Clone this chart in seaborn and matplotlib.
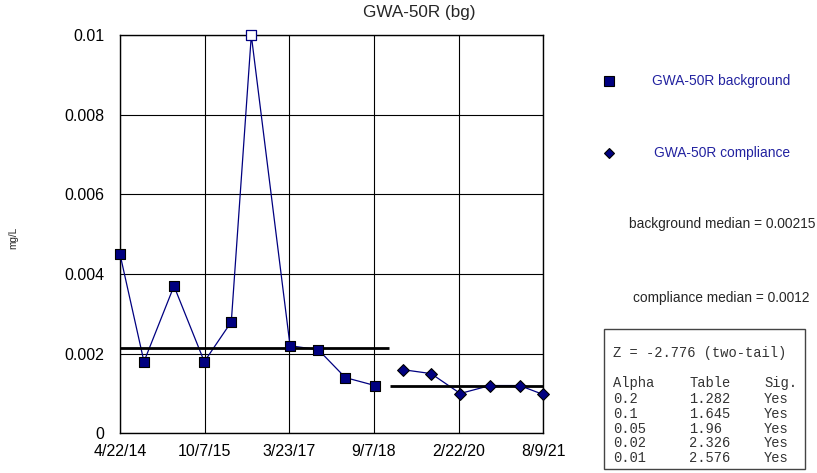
import pandas as pd
import numpy as np
import matplotlib
matplotlib.use("Agg")
import matplotlib.pyplot as plt
import matplotlib.dates as mdates
from matplotlib.lines import Line2D
from matplotlib.patches import Rectangle
from matplotlib.ticker import FixedLocator, FuncFormatter
import seaborn as sns

# datos
bg_dates = ['2014-04-22', '2014-09-20', '2015-03-28', '2015-10-05', '2016-03-23',
            '2016-07-27', '2017-03-28', '2017-09-22', '2018-03-11', '2018-09-14']
bg_vals = [0.0045, 0.0018, 0.0037, 0.0018, 0.0028, 0.01, 0.0022, 0.0021, 0.0014, 0.0012]
bg_nondetect = [False, False, False, False, False, True, False, False, False, False]

comp_dates = ['2019-03-07', '2019-09-02', '2020-03-04', '2020-09-07', '2021-03-13', '2021-08-05']
comp_vals = [0.0016, 0.0015, 0.001, 0.0012, 0.0012, 0.00098]

bg_median = 0.00215
comp_median = 0.0012
bg_median_span = ['2014-04-22', '2018-12-13']
comp_median_span = ['2018-12-17', '2021-08-09']

x_start, x_end = '2014-04-22', '2021-08-09'
y_ticks = [0, 0.002, 0.004, 0.006, 0.008, 0.01]
y_tick_labels = ['0', '0.002', '0.004', '0.006', '0.008', '0.01']

z_text = 'Z = -2.776 (two-tail)'
alphas = ['0.2', '0.1', '0.05', '0.02', '0.01']
table_vals = ['1.282', '1.645', '1.96', '2.326', '2.576']
sig_vals = ['Yes', 'Yes', 'Yes', 'Yes', 'Yes']

NAVY = '#000080'
LEG_BLUE = '#2222A0'
W, H = 817, 473

sns.set_style('white')
plt.rcParams['font.family'] = ['Liberation Sans', 'DejaVu Sans']

df_bg = pd.DataFrame({'fecha': pd.to_datetime(bg_dates), 'valor': bg_vals, 'nd': bg_nondetect})
df_comp = pd.DataFrame({'fecha': pd.to_datetime(comp_dates), 'valor': comp_vals})

fig = plt.figure(figsize=(W / 100, H / 100), dpi=100)
ax = fig.add_axes([120 / W, 1 - 433.3 / H, 423.3 / W, 398 / H])

# lineas de datos
sns.lineplot(data=df_bg, x='fecha', y='valor', ax=ax, color=NAVY, lw=0.9, zorder=3)
sns.lineplot(data=df_comp, x='fecha', y='valor', ax=ax, color=NAVY, lw=0.9, zorder=3)

# marcadores
sns.scatterplot(data=df_bg[~df_bg['nd']], x='fecha', y='valor', ax=ax, marker='s', s=62,
                color=NAVY, edgecolor='black', linewidth=0.8, zorder=5, clip_on=False)
sns.scatterplot(data=df_bg[df_bg['nd']], x='fecha', y='valor', ax=ax, marker='s', s=62,
                color='white', edgecolor=NAVY, linewidth=0.9, zorder=5, clip_on=False)
sns.scatterplot(data=df_comp, x='fecha', y='valor', ax=ax, marker='D', s=36,
                color=NAVY, edgecolor='black', linewidth=0.8, zorder=5, clip_on=False)

# medianas
bspan = mdates.date2num(pd.to_datetime(bg_median_span))
cspan = mdates.date2num(pd.to_datetime(comp_median_span))
ax.plot(bspan, [bg_median, bg_median], color='black', lw=2, zorder=4, solid_capstyle='butt')
ax.plot(cspan, [comp_median, comp_median], color='black', lw=2, zorder=4, solid_capstyle='butt')

# ejes
x0 = pd.Timestamp(x_start)
x1 = pd.Timestamp(x_end)
ax.set_xlim(x0, x1)
ax.set_ylim(0, 0.01)
xt = pd.date_range(x0, x1, periods=6)
ax.xaxis.set_major_locator(FixedLocator(mdates.date2num(xt)))
ax.xaxis.set_major_formatter(FuncFormatter(
    lambda v, p: (lambda d: f"{d.month}/{d.day}/{d:%y}")(mdates.num2date(v))))
ax.set_yticks(y_ticks)
ax.set_yticklabels(y_tick_labels)
ax.tick_params(axis='both', direction='out', length=5, width=1, color='black',
               labelsize=11.5, labelcolor='black')
ax.tick_params(axis='y', pad=6)
ax.tick_params(axis='x', pad=2.5)
ax.grid(True, color='black', lw=0.8)
for s in ax.spines.values():
    s.set_color('black')
    s.set_linewidth(1)
ax.set_xlabel('')
ax.set_ylabel('')

fig.text(13.5 / W, 1 - 238 / H, 'mg/L', rotation=90, ha='center', va='center', fontsize=7.2)
fig.text(419 / W, 1 - 13 / H, 'GWA-50R (bg)', ha='center', va='center', fontsize=12.3)

# leyenda manual
fig.add_artist(Line2D([609 / W], [1 - 81 / H], marker='s', markersize=7.4, color=NAVY,
                      markeredgecolor='black', markeredgewidth=0.8, transform=fig.transFigure))
fig.add_artist(Line2D([609 / W], [1 - 153 / H], marker='D', markersize=5.6, color=NAVY,
                      markeredgecolor='black', markeredgewidth=0.8, transform=fig.transFigure))
fig.text(652 / W, 1 - 81 / H, 'GWA-50R background', color=LEG_BLUE, fontsize=9.9, va='center')
fig.text(654 / W, 1 - 153 / H, 'GWA-50R compliance', color=LEG_BLUE, fontsize=9.9, va='center')
fig.text(628.7 / W, 1 - 224 / H, f'background median = {bg_median}', fontsize=9.9, va='center')
fig.text(633 / W, 1 - 298 / H, f'compliance median = {comp_median}', fontsize=9.9, va='center')

# cuadro de estadisticas
fig.add_artist(Rectangle((604 / W, 1 - 469 / H), 201 / W, 140 / H, transform=fig.transFigure,
                         fill=False, edgecolor='#444444', lw=1))
mono = dict(family=['Liberation Mono', 'DejaVu Sans Mono'], fontsize=9.9, color='#333333', va='center')
fig.text(612.7 / W, 1 - 353 / H, z_text, **mono)
rows_y = [399, 414, 428.7, 443, 458]
fig.text(612.7 / W, 1 - 383 / H, 'Alpha', **mono)
fig.text(689 / W, 1 - 383 / H, 'Table', **mono)
fig.text(764 / W, 1 - 383 / H, 'Sig.', **mono)
for yy, a, t, sg in zip(rows_y, alphas, table_vals, sig_vals):
    fig.text(612.7 / W, 1 - yy / H, a, **mono)
    fig.text(689 / W, 1 - yy / H, t, **mono)
    fig.text(764 / W, 1 - yy / H, sg, **mono)

fig.savefig('out.png', dpi=100)
